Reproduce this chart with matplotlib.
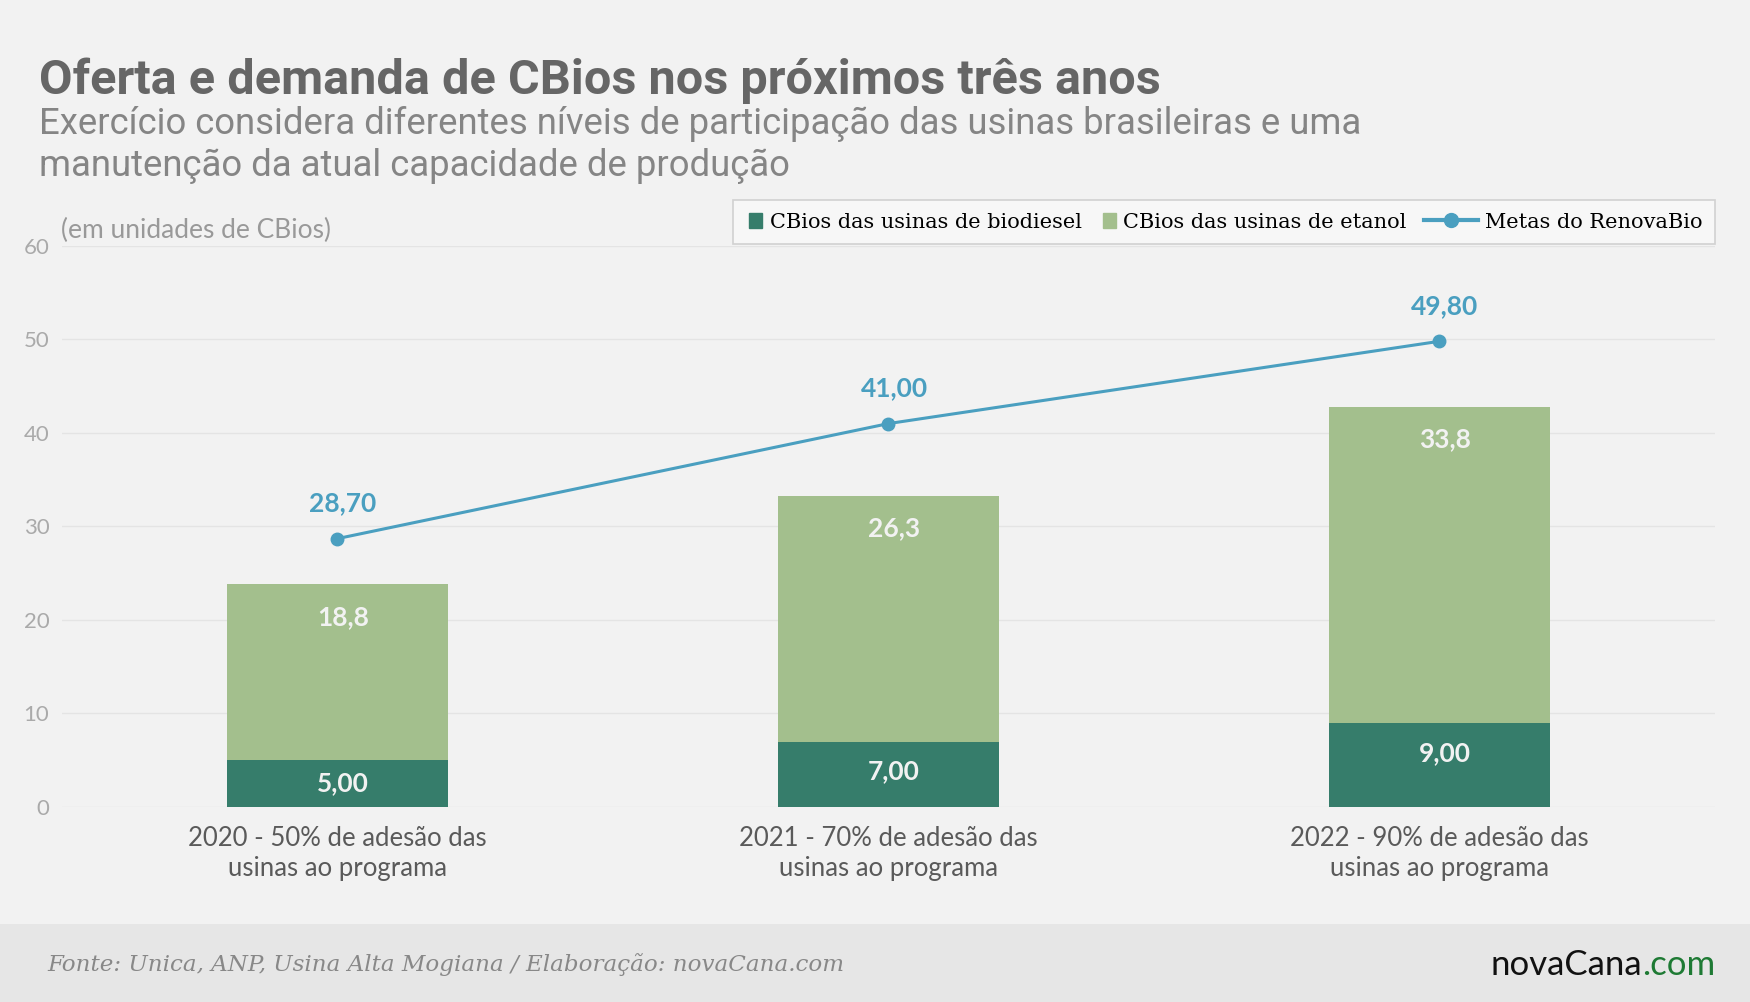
import matplotlib.pyplot as plt
import numpy as np
from matplotlib.patches import Patch, Rectangle
from matplotlib.lines import Line2D
from matplotlib.legend_handler import HandlerLine2D

# data
categories = ["2020 - 50% de adesão das\nusinas ao programa",
              "2021 - 70% de adesão das\nusinas ao programa",
              "2022 - 90% de adesão das\nusinas ao programa"]
biodiesel = [5.00, 7.00, 9.00]
etanol = [18.8, 26.3, 33.8]
metas = [28.70, 41.00, 49.80]
yticks = [0, 10, 20, 30, 40, 50, 60]

bg = "#f2f2f2"
dark = "#367d6b"
light = "#a3bf8d"
blue = "#4a9fc0"

plt.rcParams['font.family'] = ['Lato', 'DejaVu Sans']


class LongLine(HandlerLine2D):
    # longer handle for the line entry only
    def legend_artist(self, legend, orig_handle, fontsize, handlebox):
        handlebox.width *= 3.2
        return super().legend_artist(legend, orig_handle, fontsize, handlebox)


fig = plt.figure(figsize=(17.5, 10.02), dpi=100, facecolor=bg)
ax = fig.add_axes([0.0354, 0.1946, 0.9446, 0.56])
ax.set_facecolor(bg)

# footer band
fig.patches.append(Rectangle((0, 0), 1, 1 - 924 / 1002, transform=fig.transFigure,
                             facecolor="#e6e6e6", edgecolor="none", zorder=0))

x = np.arange(len(categories))
w = 0.4
ax.bar(x, biodiesel, w, color=dark, zorder=2)
ax.bar(x, etanol, w, bottom=biodiesel, color=light, zorder=2)
ax.plot(x, metas, color=blue, lw=2.2, marker="o", ms=9, zorder=3)

for i in range(len(x)):
    b = biodiesel[i]
    top = b + etanol[i]
    xl = x[i] + 0.01
    ax.text(xl, max(b - 3.2, b / 2), f"{b:.2f}".replace(".", ","), ha="center", va="center",
            color="#f2f2f2", fontsize=19, fontweight="bold", zorder=4)
    ax.text(xl, top - 3.5, f"{etanol[i]:.1f}".replace(".", ","), ha="center", va="center",
            color="#f2f2f2", fontsize=19, fontweight="bold", zorder=4)
    ax.text(xl, metas[i] + 3.8, f"{metas[i]:.2f}".replace(".", ","), ha="center", va="center",
            color=blue, fontsize=19, fontweight="bold", zorder=4)

ax.set_xlim(-0.5, 2.5)
ax.set_ylim(0, 60)
ax.set_yticks(yticks)
ax.set_xticks(x)
ax.set_xticklabels(categories, fontsize=18.5, color="#5a5a5a", linespacing=1.25)
ax.tick_params(axis="y", length=0, labelsize=16, labelcolor="#aaaaaa", pad=9)
ax.tick_params(axis="x", length=0, pad=14)
ax.grid(axis="y", color="#e4e4e4", lw=1, zorder=0)
for s in ax.spines.values():
    s.set_visible(False)

# titles
fig.text(0.0223, 1 - 81 / 1002, "Oferta e demanda de CBios nos próximos três anos",
         fontsize=35, fontweight="bold", color="#666666", va="center",
         family=["Roboto", "DejaVu Sans"])
fig.text(0.0223, 1 - 124 / 1002,
         "Exercício considera diferentes níveis de participação das usinas brasileiras e uma",
         fontsize=26.3, color="#858585", va="center", family=["Roboto", "DejaVu Sans"])
fig.text(0.0223, 1 - 166 / 1002, "manutenção da atual capacidade de produção",
         fontsize=26.3, color="#858585", va="center", family=["Roboto", "DejaVu Sans"])
fig.text(0.035, 1 - 230 / 1002, "(em unidades de CBios)", fontsize=19, color="#999999", va="center")

# legend
line_h = Line2D([], [], color=blue, lw=3, marker="o", ms=10, label="Metas do RenovaBio")
handles = [Patch(color=dark, label="CBios das usinas de biodiesel"),
           Patch(color=light, label="CBios das usinas de etanol"),
           line_h]
leg = fig.legend(handles=handles, loc="upper right", bbox_to_anchor=(0.98, 1 - 200 / 1002),
                 ncol=3, frameon=True, fancybox=False, handlelength=0.8, borderaxespad=0,
                 handleheight=0.8, handletextpad=0.35, columnspacing=0.85, borderpad=0.6,
                 handler_map={line_h: LongLine()},
                 prop={"family": ["DejaVu Serif", "DejaVu Sans"], "size": 15})
leg.get_frame().set_facecolor("#f9f9f9")
leg.get_frame().set_edgecolor("#c8c8c8")
leg.get_frame().set_linewidth(1.2)
for r in leg.legend_handles[:2]:
    w0 = r.get_width()
    r.set_x(r.get_x() + w0 - 9.5)
    r.set_width(9.5)

# footer
fig.text(0.027, 1 - 965 / 1002, "Fonte: Unica, ANP, Usina Alta Mogiana / Elaboração: novaCana.com",
         fontsize=16.6, style="italic", color="#888888", va="center",
         family=["DejaVu Serif", "DejaVu Sans"])
t = fig.text(0.98, 1 - 965 / 1002, ".com", fontsize=25, color="#1e7a34", ha="right", va="center")
fig.canvas.draw()
bb = t.get_window_extent()
fig.text(bb.x0 / fig.bbox.width, 1 - 965 / 1002, "novaCana", fontsize=25, color="#111111",
         ha="right", va="center")

fig.savefig("out.png", dpi=100, facecolor=bg)
